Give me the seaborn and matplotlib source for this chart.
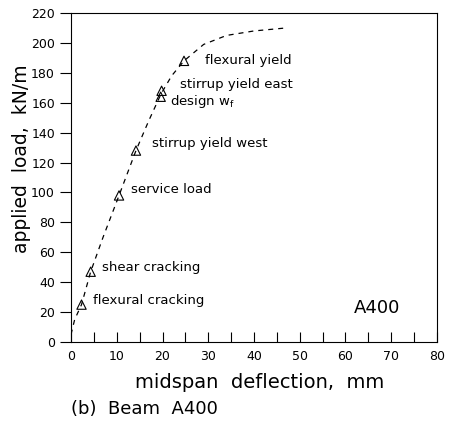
import matplotlib
matplotlib.use("Agg")
import matplotlib.pyplot as plt
import seaborn as sns
import pandas as pd

# load-deflection curve for beam A400
curve_deflection = [0.0, 0.8, 2.3, 4.3, 7.0, 10.5, 14.2, 17.0, 19.7, 22.0, 24.7, 29.0, 34.0, 40.0, 47.0]
curve_load = [5, 15, 25, 47, 70, 98, 128, 148, 166, 178, 188, 199, 205, 208, 210]

# key events on the curve
event_names = ["flexural cracking", "shear cracking", "service load",
               "stirrup yield west", "stirrup yield east", "design $\\mathregular{w_f}$",
               "flexural yield"]
event_deflection = [2.3, 4.3, 10.5, 14.2, 19.8, 19.6, 24.7]
event_load = [25, 47, 98, 128, 168, 164, 188]
label_x = [4.8, 6.8, 13.1, 17.7, 23.8, 21.6, 29.3]
label_y = [28, 50, 102, 133, 172, 161, 188]

x_ticks = list(range(0, 81, 10))
y_ticks = list(range(0, 221, 20))

sns.set_theme(style="ticks")
plt.rcParams["font.family"] = ["DejaVu Sans"]
plt.rcParams["text.color"] = "black"
plt.rcParams["axes.labelcolor"] = "black"
plt.rcParams["xtick.color"] = "black"
plt.rcParams["ytick.color"] = "black"

fig = plt.figure(figsize=(4.49, 4.25), dpi=100)
ax = fig.add_axes([71 / 449, 1 - 342 / 425, (437 - 71) / 449, (342 - 13) / 425])

curve = pd.DataFrame({"d": curve_deflection, "w": curve_load})
events = pd.DataFrame({"d": event_deflection, "w": event_load})

sns.lineplot(data=curve, x="d", y="w", ax=ax, color="black", lw=0.9,
             linestyle=(0, (4, 4)), sort=False)
sns.scatterplot(data=events, x="d", y="w", ax=ax, marker="^", s=45,
                facecolor="none", edgecolor="black", linewidth=0.8, zorder=3)

for name, lx, ly in zip(event_names, label_x, label_y):
    ax.text(lx, ly, name, fontsize=9.5, va="center", ha="left", color="black")

ax.text(66.8, 23, "A400", fontsize=13, ha="center", va="center", color="black")

ax.set_xlim(0, 80)
ax.set_ylim(0, 220)
ax.set_xticks(x_ticks)
ax.set_xticks(list(range(5, 80, 10)), minor=True)
ax.set_yticks(y_ticks)
ax.tick_params(axis="x", which="both", direction="in", length=7, width=0.8,
               labelsize=9, pad=6)
ax.tick_params(axis="y", direction="out", length=8, width=0.8, labelsize=9)
for s in ax.spines.values():
    s.set_linewidth(0.8)
    s.set_color("black")

ax.set_xlabel("midspan  deflection,  mm", fontsize=14)
ax.xaxis.set_label_coords(0.516, -0.095)
ax.set_ylabel("applied  load,  kN/m", fontsize=13.5)
ax.yaxis.set_label_coords(-0.11, 0.556)

fig.text(71 / 449, 1 - 409 / 425, "(b)  Beam  A400", fontsize=13,
         ha="left", va="center")

fig.savefig("out.png", dpi=100)
